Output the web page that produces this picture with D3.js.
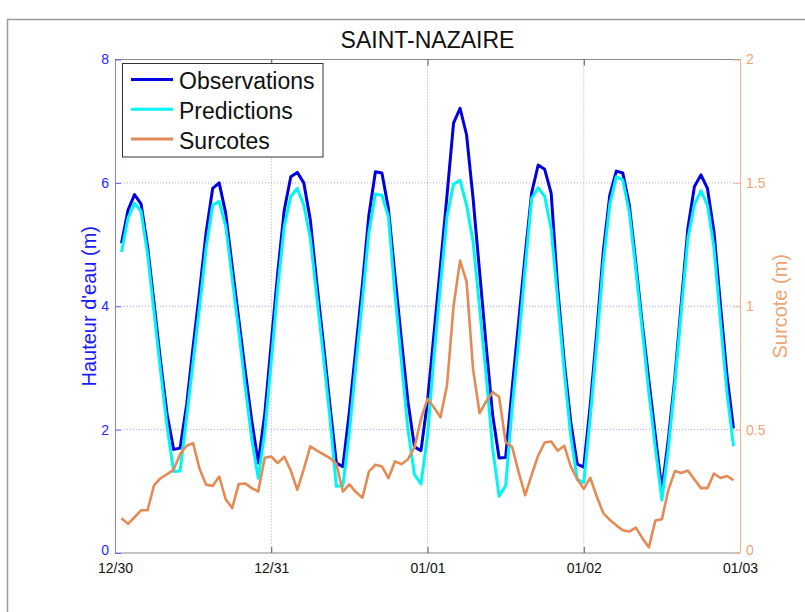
<!DOCTYPE html>
<html>
<head>
<meta charset="utf-8">
<script src="https://cdn.jsdelivr.net/npm/d3@7"></script>
<style>
  html, body { margin: 0; padding: 0; background: #ffffff; }
  svg { display: block; font-family: "Liberation Sans", Arial, sans-serif; }
</style>
</head>
<body>
<svg id="chart" width="805" height="612"></svg>
<script>
// ---- Data (hourly, from 12/30 01:00 to 01/02 23:00) ----
const startHour = 1;
const observations = [
  5.02, 5.56, 5.81, 5.66, 4.97, 4.05, 3.10, 2.25, 1.68, 1.70,
  2.40, 3.35, 4.25, 5.20, 5.91, 6.00, 5.51, 4.65, 3.80, 2.95,
  2.15, 1.46, 2.25, 3.40, 4.55, 5.56, 6.10, 6.17, 6.00, 5.40,
  4.37, 3.41, 2.41, 1.46, 1.40, 2.29, 3.32, 4.35, 5.48, 6.18,
  6.16, 5.58, 4.50, 3.45, 2.45, 1.72, 1.66, 2.46, 3.56, 4.67,
  5.80, 6.97, 7.21, 6.78, 5.75, 4.56, 3.37, 2.24, 1.54, 1.55,
  2.67, 3.75, 4.83, 5.84, 6.29, 6.22, 5.83, 4.29, 3.10, 2.13,
  1.44, 1.39, 2.40, 3.59, 4.89, 5.80, 6.19, 6.16, 5.64, 4.70,
  3.70, 2.80, 1.90, 1.02, 1.85, 2.85, 4.08, 5.27, 5.94, 6.13,
  5.91, 5.21, 4.02, 2.88, 2.02
];
const predictions = [
  4.88, 5.43, 5.67, 5.54, 4.85, 3.90, 2.95, 2.05, 1.32, 1.33,
  2.20, 3.10, 4.00, 4.95, 5.64, 5.70, 5.30, 4.45, 3.60, 2.70,
  1.85, 1.21, 1.95, 3.10, 4.30, 5.30, 5.78, 5.91, 5.64, 5.10,
  4.15, 3.20, 2.20, 1.08, 1.09, 1.95, 3.05, 4.10, 5.20, 5.82,
  5.80, 5.45, 4.20, 3.10, 2.00, 1.27, 1.12, 1.90, 3.20, 4.35,
  5.45, 5.98, 6.04, 5.64, 5.05, 3.97, 2.89, 1.70, 0.92, 1.09,
  2.35, 3.43, 4.62, 5.75, 5.92, 5.78, 5.25, 4.10, 2.95, 1.90,
  1.19, 1.14, 2.20, 3.40, 4.70, 5.65, 6.10, 6.05, 5.52, 4.60,
  3.60, 2.60, 1.70, 0.86, 1.70, 2.75, 3.95, 5.10, 5.65, 5.87,
  5.64, 4.95, 3.75, 2.60, 1.73
];
const surcotes = [
  0.141, 0.118, 0.145, 0.173, 0.173, 0.275, 0.303, 0.320, 0.337, 0.400,
  0.435, 0.445, 0.340, 0.277, 0.272, 0.310, 0.218, 0.182, 0.279, 0.282,
  0.263, 0.249, 0.386, 0.391, 0.364, 0.390, 0.334, 0.256, 0.340, 0.432,
  0.415, 0.400, 0.385, 0.362, 0.249, 0.278, 0.247, 0.224, 0.330, 0.358,
  0.351, 0.303, 0.371, 0.360, 0.380, 0.428, 0.543, 0.625, 0.590, 0.550,
  0.680, 1.000, 1.185, 1.100, 0.745, 0.567, 0.614, 0.652, 0.633, 0.450,
  0.430, 0.328, 0.234, 0.317, 0.395, 0.448, 0.452, 0.414, 0.435, 0.351,
  0.300, 0.260, 0.305, 0.229, 0.162, 0.134, 0.112, 0.092, 0.087, 0.103,
  0.060, 0.023, 0.132, 0.137, 0.256, 0.332, 0.324, 0.334, 0.298, 0.263,
  0.263, 0.322, 0.304, 0.312, 0.295
];
const xTickHours = [0, 24, 48, 72, 96];
const xTickLabels = ["12/30", "12/31", "01/01", "01/02", "01/03"];
const leftTicks = [0, 2, 4, 6, 8];
const rightTicks = [0, 0.5, 1, 1.5, 2];
const seriesNames = ["Observations", "Predictions", "Surcotes"];
const titleText = "SAINT-NAZAIRE";

// ---- Layout ----
const svg = d3.select("#chart");
const L = 115, R = 740, T = 59.5, B = 553;
const cObs = "#0000e0", cPred = "#00f5f5", cSur = "#e48b55";
const cLeft = "#2626ff", cRight = "#f0a474";

const x = d3.scaleLinear().domain([0, 96]).range([L, R]);
const yL = d3.scaleLinear().domain([0, 8]).range([B, T]);
const yR = d3.scaleLinear().domain([0, 2]).range([B, T]);
const hours = observations.map((_, i) => i + startHour);

// Figure frame
svg.append("path").attr("d", `M7.5,612 V19.5 H805`).attr("fill", "none")
  .attr("stroke", "#9a9a9a").attr("stroke-width", 1.5);

// Grid
const g = svg.append("g");
g.selectAll(".hg").data(leftTicks.filter(d => d > 0 && d < 8)).join("line")
  .attr("x1", L).attr("x2", R).attr("y1", d => yL(d)).attr("y2", d => yL(d))
  .attr("stroke", "#a4a4ff").attr("stroke-dasharray", "1,2").attr("stroke-width", 1);
g.selectAll(".vg").data(xTickHours.slice(1, -1)).join("line")
  .attr("x1", d => x(d)).attr("x2", d => x(d)).attr("y1", T).attr("y2", B)
  .attr("stroke", "#a8a8a8").attr("stroke-dasharray", "1,2").attr("stroke-width", 1);

// Box lines
svg.append("line").attr("x1", L).attr("x2", R).attr("y1", T).attr("y2", T).attr("stroke", "#8a8a8a");
svg.append("line").attr("x1", L).attr("x2", R).attr("y1", B).attr("y2", B).attr("stroke", "#8a8a8a");

// Axes
const fmtX = d => xTickLabels[xTickHours.indexOf(d)];
const axB = svg.append("g").attr("transform", `translate(0,${B})`)
  .call(d3.axisBottom(x).tickValues(xTickHours).tickFormat(fmtX).tickSize(-6).tickSizeOuter(0).tickPadding(10));
axB.select(".domain").remove();
axB.selectAll("line").attr("stroke", "#555");
axB.selectAll("text").attr("fill", "#111").style("font-size", "14px");

const axT = svg.append("g").attr("transform", `translate(0,${T})`)
  .call(d3.axisTop(x).tickValues(xTickHours).tickFormat("").tickSize(-6).tickSizeOuter(0));
axT.select(".domain").remove();
axT.selectAll("line").attr("stroke", "#555");

const axL = svg.append("g").attr("transform", `translate(${L},0)`)
  .call(d3.axisLeft(yL).tickValues(leftTicks).tickFormat(d3.format("d")).tickSize(-6).tickSizeOuter(0).tickPadding(6));
axL.select(".domain").attr("stroke", "#8080ff");
axL.selectAll("line").attr("stroke", "#6060ff");
axL.selectAll("text").attr("fill", cLeft).style("font-size", "14px");
axL.selectAll(".tick").filter(d => d === 0).select("text").attr("dy", "0.12em");

const axR = svg.append("g").attr("transform", `translate(${R},0)`)
  .call(d3.axisRight(yR).tickValues(rightTicks).tickFormat(d => String(d)).tickSize(-6).tickSizeOuter(0).tickPadding(6));
axR.select(".domain").attr("stroke", "#f4b68e");
axR.selectAll("line").attr("stroke", "#f4b68e");
axR.selectAll("text").attr("fill", cRight).style("font-size", "14px");
axR.selectAll(".tick").filter(d => d === 0).select("text").attr("dy", "0.12em");

// Lines
const lineL = d3.line().x((d, i) => x(hours[i])).y(d => yL(d));
const lineR = d3.line().x((d, i) => x(hours[i])).y(d => yR(d));
svg.append("path").datum(observations).attr("d", lineL).attr("fill", "none")
  .attr("stroke", cObs).attr("stroke-width", 3).attr("stroke-linejoin", "round");
svg.append("path").datum(predictions).attr("d", lineL).attr("fill", "none")
  .attr("stroke", cPred).attr("stroke-width", 3).attr("stroke-linejoin", "round");
svg.append("path").datum(surcotes).attr("d", lineR).attr("fill", "none")
  .attr("stroke", cSur).attr("stroke-width", 2.6).attr("stroke-linejoin", "round");

// Title
svg.append("text").attr("x", (L + R) / 2).attr("y", 48.3).attr("text-anchor", "middle")
  .style("font-size", "23px").attr("fill", "#111").text(titleText);

// Axis labels
svg.append("text").attr("transform", `translate(96,${(T + B) / 2}) rotate(-90)`)
  .attr("text-anchor", "middle").style("font-size", "20px").attr("fill", "#1a1aff")
  .text("Hauteur d'eau (m)");
svg.append("text").attr("transform", `translate(787,${(T + B) / 2}) rotate(-90)`)
  .attr("text-anchor", "middle").style("font-size", "20px").attr("fill", cRight)
  .text("Surcote (m)");

// Legend
const lg = svg.append("g");
lg.append("rect").attr("x", 122.5).attr("y", 63.5).attr("width", 200.5).attr("height", 93.5)
  .attr("fill", "#fff").attr("stroke", "#333").attr("stroke-width", 1);
const legColors = [cObs, cPred, cSur];
seriesNames.forEach((name, i) => {
  const yy = 79.5 + i * 29.7;
  lg.append("line").attr("x1", 131).attr("x2", 173).attr("y1", yy).attr("y2", yy)
    .attr("stroke", legColors[i]).attr("stroke-width", 3);
  lg.append("text").attr("x", 179).attr("y", yy + 9.8).style("font-size", "23px")
    .attr("fill", "#111").text(name);
});
</script>
</body>
</html>
